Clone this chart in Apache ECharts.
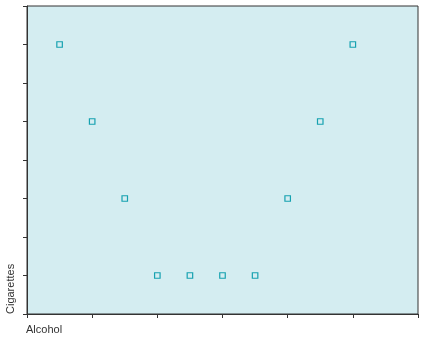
<!DOCTYPE html>
<html>
<head>
<meta charset="utf-8">
<script src="https://cdn.jsdelivr.net/npm/echarts@6/dist/echarts.min.js"></script>
<style>html,body{margin:0;padding:0;background:#fff;}#c{width:426px;height:340px;}</style>
</head>
<body>
<div id="c"></div>
<script>
const alcohol = [0.5, 1, 1.5, 2, 2.5, 3, 3.5, 4, 4.5, 5];
const cigarettes = [7, 5, 3, 1, 1, 1, 1, 3, 5, 7];
const xName = "Alcohol";
const yName = "Cigarettes";

const chart = echarts.init(document.getElementById('c'), null, {renderer: 'canvas'});
const data = alcohol.map((x, i) => [x, cigarettes[i]]);
chart.setOption({
  animation: false,
  grid: {left: 27, right: 8, top: 6, bottom: 26, show: true, backgroundColor: '#d4edf1', borderColor: '#333', borderWidth: 1},
  xAxis: {
    type: 'value', min: 0, max: 6, interval: 1,
    axisLine: {show: true, lineStyle: {color: '#333', width: 1}},
    axisTick: {show: true, length: 4, lineStyle: {color: '#333'}},
    axisLabel: {show: false},
    splitLine: {show: false}
  },
  yAxis: {
    type: 'value', min: 0, max: 8, interval: 1,
    axisLine: {show: true, lineStyle: {color: '#333', width: 1}},
    axisTick: {show: true, length: 4, lineStyle: {color: '#333'}},
    axisLabel: {show: false},
    splitLine: {show: false}
  },
  graphic: [
    {type: 'text', left: 26, top: 324, style: {text: xName, font: '11px "Liberation Sans", Arial, sans-serif', fill: '#333'}},
    {type: 'text', x: 16, y: 314, rotation: Math.PI / 2, style: {text: yName, font: '11px "Liberation Sans", Arial, sans-serif', fill: '#333', align: 'left', verticalAlign: 'bottom'}}
  ],
  series: [{
    type: 'scatter',
    data: data,
    symbol: 'rect',
    symbolSize: 5.5,
    itemStyle: {color: '#d4edf1', borderColor: '#15a1b0', borderWidth: 1.2, opacity: 1}
  }]
});
</script>
</body>
</html>
